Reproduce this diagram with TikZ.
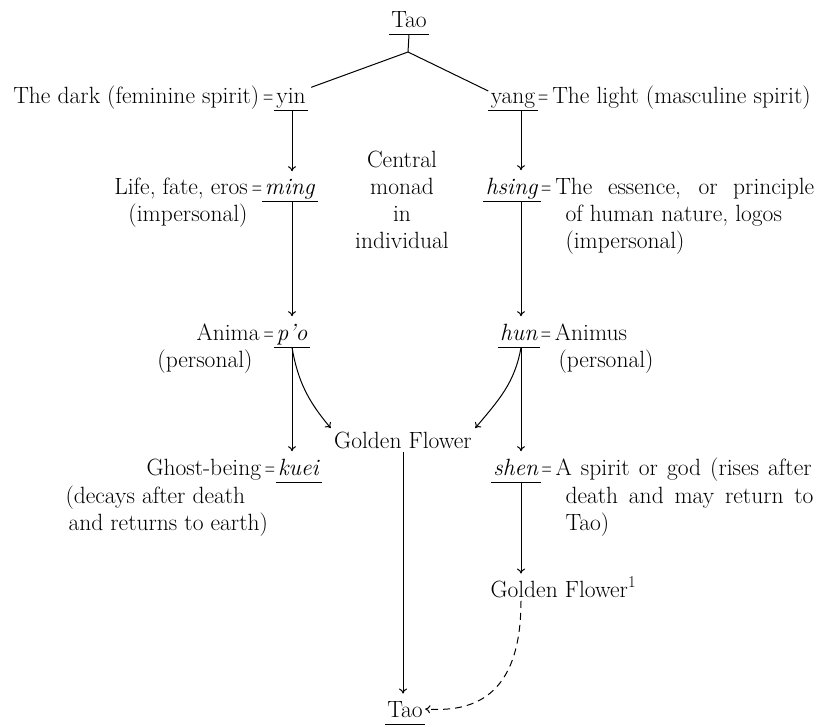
\documentclass[tikz,border=0pt]{standalone}
\usepackage{tikz}
\usetikzlibrary{arrows.meta,positioning}

\newcommand{\eqs}{\scalebox{0.6}[1]{=}}

\begin{document}
\begin{tikzpicture}[x=1pt,y=-1pt,
	font=\fontsize{23.5}{27}\selectfont,
	line width=1pt,
	term/.style={inner xsep=2pt,inner ysep=7pt,text depth=0pt,
		append after command={(\tikzlastnode.south west) edge (\tikzlastnode.south east)}},
	gloss/.style={inner sep=0pt},
	link/.style={-{To[length=5pt,width=8pt]}}]
	
	\useasboundingbox (0,0) rectangle (819,726);
	\coordinate (lcol) at (292,0);
	\coordinate (rcol) at (521,0);
	\coordinate (fork) at (408,52);
	
	% terms
	\node (taotop) [term,anchor=base] at (409,27) {Tao};
	\node (yin) [term,anchor=base] at (291,103) {yin};
	\node (yang) [term,anchor=base] at (513,103) {yang};
	\node (ming) [term,anchor=base] at (290,194) {\textit{ming}};
	\node (hsing) [term,anchor=base] at (512,194) {\textit{hsing}};
	\node (po) [term,anchor=base] at (292,340) {\textit{p'o}};
	\node (hun) [term,anchor=base] at (519,340) {\textit{hun}};
	\node (kuei) [term,anchor=base] at (299,475) {\textit{kuei}};
	\node (shen) [term,anchor=base] at (516,475) {\textit{shen}};
	\node (gf) [inner sep=3pt,anchor=base] at (403,448) {Golden Flower};
	\node (gfa) [inner sep=3pt,anchor=base west] at (487,597) {Golden Flower\textsuperscript{1}};
	\node (taoend) [term,anchor=base] at (405,717) {Tao};
	
	% glosses
	\node (yinl) [gloss,anchor=base east] at (yin.base west) {The dark (feminine spirit)\,\eqs};
	\node (yangr) [gloss,anchor=base west] at (yang.base east) {\eqs\,The light (masculine spirit)};
	\node (mingl) [gloss,anchor=base east] at (ming.base west) {Life, fate, eros\,\eqs};
	\node (mingl2) [gloss,anchor=base] at (188,221) {(impersonal)};
	\node (hsingr) [gloss,anchor=base west] at (hsing.base east) {\eqs\,\makebox[259pt][s]{The essence, or principle}};
	\node (hsingr2) [gloss,anchor=base west] at (565,221) {of human nature, logos};
	\node (hsingr3) [gloss,anchor=base west] at (565,248) {(impersonal)};
	\foreach \w [count=\i] in {Central,monad,in,individual}
		\node (monad\i) [gloss,anchor=base] at (402,140+27*\i) {\w};
	\node (pol) [gloss,anchor=base east] at (po.base west) {Anima\,\eqs};
	\node (pol2) [gloss,anchor=base] at (205,367) {(personal)};
	\node (hunr) [gloss,anchor=base west] at (hun.base east) {\eqs\,Animus};
	\node (hunr2) [gloss,anchor=base west] at (558,367) {(personal)};
	\node (kueil) [gloss,anchor=base east] at (kuei.base west) {Ghost-being\,\eqs};
	\node (kueil2) [gloss,anchor=base west] at (65,503) {(decays after death};
	\node (kueil3) [gloss,anchor=base west] at (68,530) {and returns to earth)};
	\node (shenr) [gloss,anchor=base west] at (shen.base east) {\eqs\,\makebox[256pt][s]{A spirit or god (rises after}};
	\node (shenr2) [gloss,anchor=base west] at (565,503) {\makebox[248pt][s]{death and may return to}};
	\node (shenr3) [gloss,anchor=base west] at (565,530) {Tao)};
	
	% connectors
	\draw (taotop.south) -- (fork);
	\draw (fork) -- ([xshift=3pt,yshift=-7pt]yin.north east);
	\draw (fork) -- ([yshift=-6pt]yang.north west);
	\foreach \a/\b in {yin/ming,ming/po,po/kuei}
		\draw [link] (\a.south -| lcol) -- (\b.north -| lcol);
	\foreach \a/\b in {yang/hsing,hsing/hun,hun/shen,shen/gfa}
		\draw [link] (\a.south -| rcol) -- (\b.north -| rcol);
	\draw [link] (po.south -| lcol) to[out=-80,in=130] (gf.north west);
	\draw [link] (hun.south -| rcol) to[out=-100,in=50] (gf.north east);
	\draw [link] (gf.south) -- (gf.south |- taoend.north);
	\draw [link,dash pattern=on 7pt off 5pt] (gfa.south -| rcol) .. controls (521,700) and (470,712) .. (taoend.east);
\end{tikzpicture}
\end{document}
